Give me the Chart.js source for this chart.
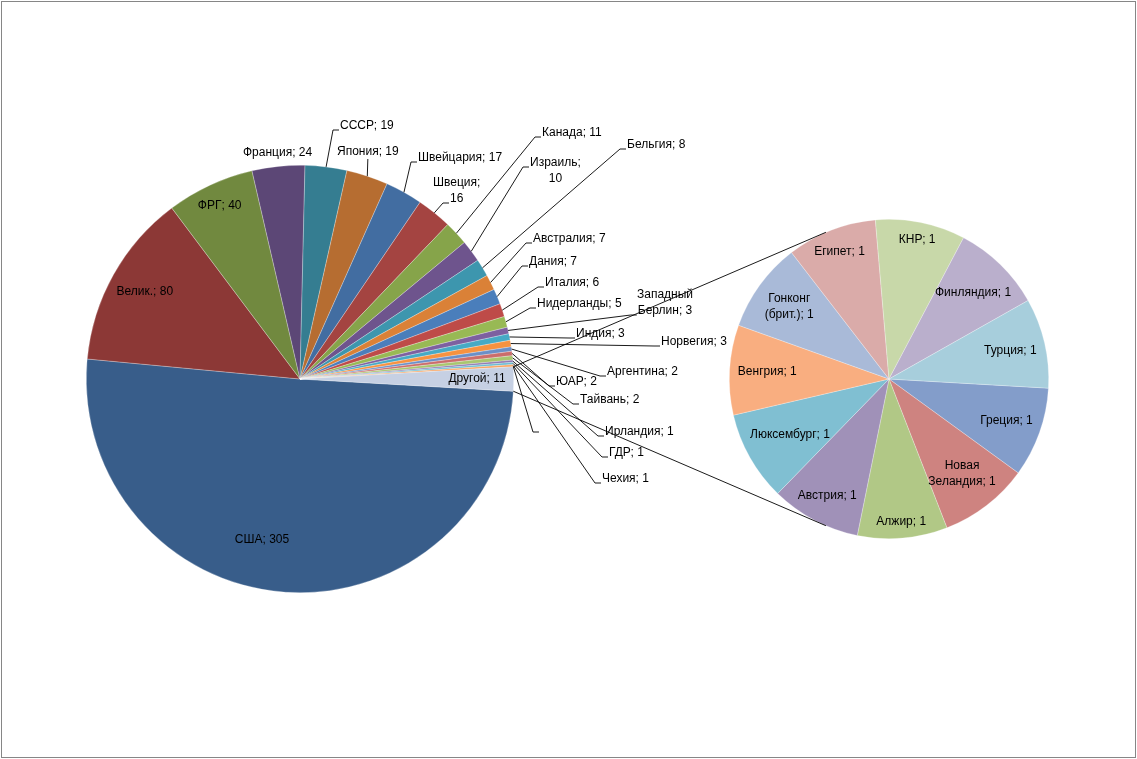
<!DOCTYPE html>
<html>
<head>
<meta charset="utf-8">
<script src="https://cdn.jsdelivr.net/npm/chart.js@4.4.1/dist/chart.umd.min.js"></script>
<style>
  body { margin: 0; background: #fff; }
  #wrap { position: relative; width: 1137px; height: 759px; }
  #wrap canvas { position: absolute; left: 0; top: 0; }
  #frame { position: absolute; left: 1px; top: 1px; width: 1135px; height: 757px;
           box-sizing: border-box; border: 1px solid #868686; }
</style>
</head>
<body>
<div id="wrap">
  <div id="frame"></div>
  <canvas id="mainPie" width="1137" height="759"></canvas>
  <canvas id="subPie" width="1137" height="759"></canvas>
</div>
<script>
// main pie
const countries = ['США', 'Велик.', 'ФРГ', 'Франция', 'СССР', 'Япония', 'Швейцария', 'Швеция',
  'Канада', 'Израиль', 'Бельгия', 'Австралия', 'Дания', 'Италия', 'Нидерланды',
  'Западный Берлин', 'Индия', 'Норвегия', 'Аргентина', 'ЮАР', 'Тайвань', 'Ирландия',
  'ГДР', 'Чехия', ''];
const counts = [305, 80, 40, 24, 19, 19, 17, 16, 11, 10, 8, 7, 7, 6, 5, 3, 3, 3, 2, 2, 2, 1, 1, 1, 0];
const otherName = 'Другой';

// secondary pie (the "Другой" slice split up)
const smallCountries = ['Греция', 'Новая Зеландия', 'Алжир', 'Австрия', 'Люксембург', 'Венгрия',
  'Гонконг (брит.)', 'Египет', 'КНР', 'Финляндия', 'Турция'];
const smallCounts = [1, 1, 1, 1, 1, 1, 1, 1, 1, 1, 1];

const otherCount = smallCounts.reduce((a, b) => a + b, 0);
const mainLabels = countries.concat([otherName]);
const mainValues = counts.concat([otherCount]);
const total = mainValues.reduce((a, b) => a + b, 0);
// "Другой" centred on 3 o'clock, as Excel does it
const startDeg = 90 + otherCount / total * 180;

const mainColors = [
  '#385D8A', '#8C3836', '#71893F', '#5C4776', '#357D91', '#B66D31',
  '#426DA1', '#A44441', '#86A44A', '#6E548D', '#3D96AE', '#DA8137',
  '#4A7EBB', '#BE4B48', '#98B954', '#7D60A0', '#46AAC5', '#F69240',
  '#6A8FC7', '#CB6D6B', '#A9C66F', '#9079B1', '#69BBD1', '#F8A462',
  '#F9AE80', '#C6D0E3'];
const subColors = ['#839DCA', '#CE8380', '#B1C886', '#A091B8', '#80BFD2', '#F9AE80',
  '#A9BAD8', '#DAABA9', '#C8D8A9', '#BAAFCC', '#A7CEDC'];

const FONT = '12px "Liberation Sans", Arial, sans-serif';
const LINE = 16;

// where Excel put the outside labels: left of text box, middle of first line
const outside = {
  3: {x: 243, y: 153, leader: false},
  4: {x: 340, y: 126},
  5: {x: 337, y: 152, tip: 'bottom'},
  6: {x: 418, y: 158},
  7: {x: 433, y: 183, wrap: true, at: 1},
  8: {x: 542, y: 133},
  9: {x: 530, y: 163, wrap: true},
  10: {x: 627, y: 145},
  11: {x: 533, y: 239},
  12: {x: 529, y: 262},
  13: {x: 545, y: 283},
  14: {x: 537, y: 304},
  15: {x: 637, y: 295, wrap: true, at: 1},
  16: {x: 576, y: 334},
  17: {x: 661, y: 342},
  18: {x: 607, y: 372},
  19: {x: 556, y: 382},
  20: {x: 580, y: 400},
  21: {x: 605, y: 432},
  22: {x: 609, y: 453},
  23: {x: 602, y: 479},
  24: {x: 540, y: 428}
};
const usaLabelAt = {x: 262, y: 540};
const subWrap = [1, 6];

function labelText(name, v) {
  return name ? name + '; ' + v : '';
}
function splitLines(text, wrap) {
  if (!wrap) return [text];
  const k = text.indexOf(' ');
  return [text.slice(0, k), text.slice(k + 1)];
}
function arcGeom(arc) {
  const p = arc.getProps(['x', 'y', 'startAngle', 'endAngle', 'outerRadius'], true);
  p.mid = (p.startAngle + p.endAngle) / 2;
  return p;
}
function drawLines(ctx, lines, cx, cy) {
  const h = lines.length * LINE;
  lines.forEach((s, i) => ctx.fillText(s, cx, cy - h / 2 + LINE / 2 + i * LINE));
}
// label inside the slice, pushed against the rim
function insideEnd(ctx, g, lines) {
  const w = Math.max(...lines.map(s => ctx.measureText(s).width));
  const h = lines.length * LINE;
  const ux = Math.cos(g.mid), uy = Math.sin(g.mid);
  const d = g.outerRadius - 8 - (Math.abs(ux) * w / 2 + Math.abs(uy) * (h - 3) / 2);
  drawLines(ctx, lines, g.x + ux * d, g.y + uy * d);
}

const mainLabelPlugin = {
  id: 'mainLabels',
  afterDraw(chart) {
    const ctx = chart.ctx;
    const arcs = chart.getDatasetMeta(0).data;
    ctx.save();
    ctx.font = FONT;
    ctx.fillStyle = '#000';
    ctx.strokeStyle = '#000';
    ctx.lineWidth = 0.9;
    ctx.textAlign = 'center';
    ctx.textBaseline = 'middle';
    arcs.forEach((arc, i) => {
      const g = arcGeom(arc);
      const text = labelText(mainLabels[i], mainValues[i]);
      const lay = outside[i];
      if (!lay) {
        if (i === 0) drawLines(ctx, [text], usaLabelAt.x, usaLabelAt.y);
        else insideEnd(ctx, g, [text]);
        return;
      }
      const lines = splitLines(text, lay.wrap);
      const widths = lines.map(s => ctx.measureText(s).width);
      const boxW = Math.max(...widths, 0);
      const cx = lay.x + boxW / 2;
      drawLines(ctx, lines, cx, lay.y + (lines.length - 1) * LINE / 2);
      if (lay.leader === false) return;
      const ax = g.x + Math.cos(g.mid) * g.outerRadius;
      const ay = g.y + Math.sin(g.mid) * g.outerRadius;
      ctx.beginPath();
      ctx.moveTo(ax, ay);
      if (lay.tip === 'bottom') {
        ctx.lineTo(cx, lay.y + 7);
      } else {
        const at = lay.at || 0;
        const lx = cx - (widths[at] || 0) / 2;
        const ly = lay.y + at * LINE + 4;
        ctx.lineTo(lx - 7, ly);
        ctx.lineTo(lx - 1, ly);
      }
      ctx.stroke();
    });
    ctx.restore();
  }
};

const subLabelPlugin = {
  id: 'subLabels',
  afterDraw(chart) {
    const ctx = chart.ctx;
    const arcs = chart.getDatasetMeta(0).data;
    ctx.save();
    ctx.font = FONT;
    ctx.fillStyle = '#000';
    ctx.textAlign = 'center';
    ctx.textBaseline = 'middle';
    arcs.forEach((arc, i) => {
      const text = labelText(smallCountries[i], smallCounts[i]);
      insideEnd(ctx, arcGeom(arc), splitLines(text, subWrap.includes(i)));
    });

    // connector lines from the ends of "Другой" to tangents of the second pie
    const other = arcGeom(mainChart.getDatasetMeta(0).data[mainValues.length - 1]);
    const sub = arcGeom(arcs[0]);
    ctx.strokeStyle = '#000';
    ctx.lineWidth = 0.9;
    [[other.startAngle, 1], [other.endAngle, -1]].forEach(([a, sign]) => {
      const px = other.x + Math.cos(a) * other.outerRadius;
      const py = other.y + Math.sin(a) * other.outerRadius;
      const dx = px - sub.x, dy = py - sub.y;
      const t = Math.atan2(dy, dx) + sign * Math.acos(sub.outerRadius / Math.hypot(dx, dy));
      ctx.beginPath();
      ctx.moveTo(px, py);
      ctx.lineTo(sub.x + Math.cos(t) * sub.outerRadius, sub.y + Math.sin(t) * sub.outerRadius);
      ctx.stroke();
    });
    ctx.restore();
  }
};

const common = {
  responsive: false,
  animation: false,
  events: [],
  rotation: startDeg,
  plugins: {legend: {display: false}, tooltip: {enabled: false}}
};

const mainChart = new Chart(document.getElementById('mainPie'), {
  type: 'pie',
  data: {
    labels: mainLabels,
    datasets: [{
      data: mainValues,
      backgroundColor: mainColors,
      borderColor: 'rgba(255,255,255,0.45)',
      borderWidth: 0.6
    }]
  },
  options: Object.assign({}, common, {
    layout: {padding: {left: 86, right: 623, top: 165, bottom: 166}}
  }),
  plugins: [mainLabelPlugin]
});

const subChart = new Chart(document.getElementById('subPie'), {
  type: 'pie',
  data: {
    labels: smallCountries,
    datasets: [{
      data: smallCounts,
      backgroundColor: subColors,
      borderColor: 'rgba(255,255,255,0.45)',
      borderWidth: 0.6
    }]
  },
  options: Object.assign({}, common, {
    layout: {padding: {left: 729, right: 88, top: 219, bottom: 220}}
  }),
  plugins: [subLabelPlugin]
});
</script>
</body>
</html>
